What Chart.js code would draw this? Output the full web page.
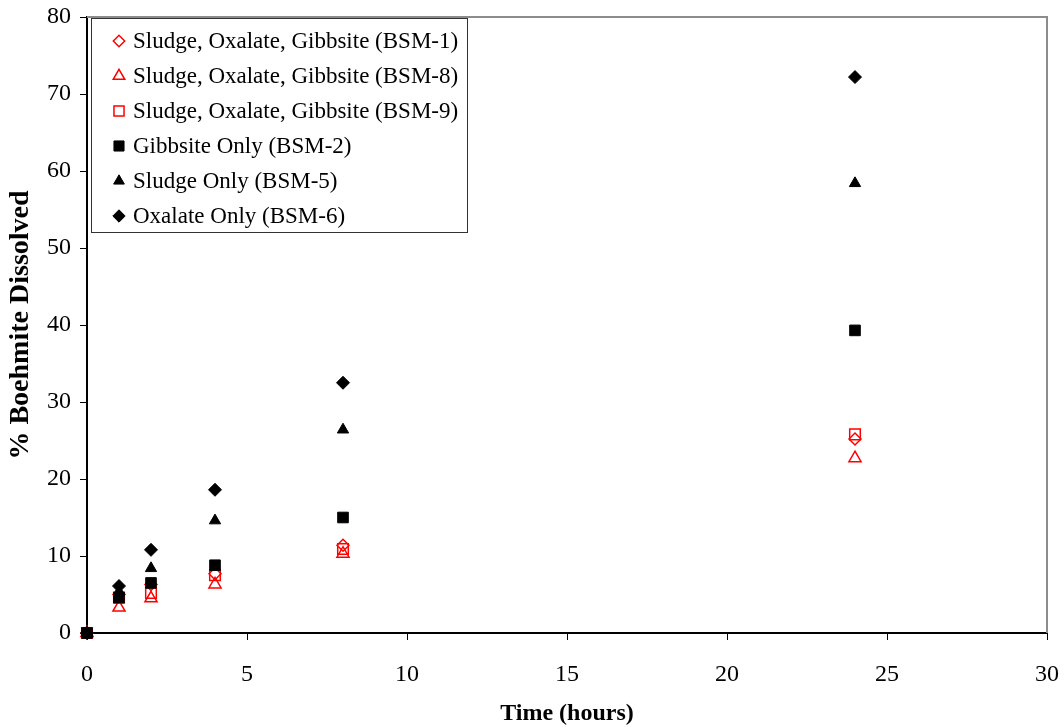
<!DOCTYPE html>
<html>
<head>
<meta charset="utf-8">
<title>Boehmite Dissolution</title>
<script src="https://cdn.jsdelivr.net/npm/chart.js@4.4.0/dist/chart.umd.min.js"></script>
<style>
  html, body { margin: 0; padding: 0; background: #fff; }
  #wrap { width: 1064px; height: 727px; }
</style>
</head>
<body>
<div id="wrap"><canvas id="chart" width="1064" height="727"></canvas></div>
<script>
// sampling times (hours)
const times = [0, 1, 2, 4, 8, 24];

// % boehmite dissolved per test
const bsm1 = [0, 5.0, 6.3, 7.7, 11.4, 25.2];
const bsm8 = [0, 3.3, 4.5, 6.3, 10.3, 22.7];
const bsm9 = [0, 4.6, 5.2, 7.5, 10.9, 25.8];
const bsm2 = [0, 4.6, 6.5, 8.8, 15.0, 39.3];
const bsm5 = [0, 5.4, 8.4, 14.6, 26.4, 58.4];
const bsm6 = [0, 6.1, 10.8, 18.6, 32.5, 72.2];

const seriesNames = [
  'Sludge, Oxalate, Gibbsite (BSM-1)',
  'Sludge, Oxalate, Gibbsite (BSM-8)',
  'Sludge, Oxalate, Gibbsite (BSM-9)',
  'Gibbsite Only (BSM-2)',
  'Sludge Only (BSM-5)',
  'Oxalate Only (BSM-6)'
];

const xTicks = [0, 5, 10, 15, 20, 25, 30];
const yTicks = [0, 10, 20, 30, 40, 50, 60, 70, 80];

const SERIF = '"Liberation Serif", "Times New Roman", serif';

function pts(vals) {
  return times.map((t, i) => ({ x: t, y: vals[i] }));
}

function hollow(label, vals, style, r) {
  return {
    label, data: pts(vals), pointStyle: style, pointRadius: r,
    borderColor: '#ff0000', backgroundColor: 'rgba(0,0,0,0)',
    pointBorderWidth: 1.5, order: 1, clip: false
  };
}

function solid(label, vals, style, r) {
  return {
    label, data: pts(vals), pointStyle: style, pointRadius: r,
    borderColor: '#000', backgroundColor: '#000',
    pointBorderWidth: 1, order: 0, clip: false
  };
}

// boxed legend sitting in the upper left of the plot
const boxLegend = {
  id: 'boxLegend',
  afterDraw(chart) {
    const ctx = chart.ctx;
    const left = 91, top = 18, w = 376, h = 214;
    ctx.save();
    ctx.fillStyle = '#fff';
    ctx.fillRect(left, top, w, h);
    ctx.strokeStyle = '#333';
    ctx.lineWidth = 1;
    ctx.strokeRect(left + 0.5, top + 0.5, w, h);
    ctx.font = '23px ' + SERIF;
    ctx.textBaseline = 'middle';
    chart.data.datasets.forEach((ds, i) => {
      const y = 41 + i * 35;
      ctx.strokeStyle = ds.borderColor;
      ctx.fillStyle = ds.backgroundColor;
      ctx.lineWidth = ds.pointBorderWidth;
      Chart.helpers.drawPoint(ctx, {
        pointStyle: ds.pointStyle, radius: ds.pointRadius * 0.95,
        borderWidth: ds.pointBorderWidth, rotation: 0
      }, 119, y);
      ctx.fillStyle = '#000';
      ctx.fillText(ds.label, 133, y + 1);
    });
    ctx.restore();
  }
};

// thin grey frame on the top and right edges of the plot
const frame = {
  id: 'frame',
  beforeDatasetsDraw(chart) {
    const a = chart.chartArea;
    const ctx = chart.ctx;
    ctx.save();
    ctx.strokeStyle = '#8c8c8c';
    ctx.lineWidth = 2;
    ctx.beginPath();
    ctx.moveTo(a.left, a.top);
    ctx.lineTo(a.right, a.top);
    ctx.lineTo(a.right, a.bottom);
    ctx.stroke();
    ctx.restore();
  }
};

new Chart(document.getElementById('chart'), {
  type: 'scatter',
  data: {
    datasets: [
      hollow(seriesNames[0], bsm1, 'rectRot', 6),
      hollow(seriesNames[1], bsm8, 'triangle', 7),
      hollow(seriesNames[2], bsm9, 'rect', 7.5),
      solid(seriesNames[3], bsm2, 'rect', 7.5),
      solid(seriesNames[4], bsm5, 'triangle', 6.5),
      solid(seriesNames[5], bsm6, 'rectRot', 6.5)
    ]
  },
  options: {
    responsive: false,
    animation: false,
    layout: { padding: 0 },
    plugins: {
      legend: { display: false },
      tooltip: { enabled: false }
    },
    scales: {
      x: {
        type: 'linear', min: 0, max: 30,
        afterFit: s => { s.height = 94; s.paddingLeft = 0; s.paddingRight = 17; },
        afterBuildTicks: s => { s.ticks = xTicks.map(v => ({ value: v })); },
        grid: { drawOnChartArea: false, drawTicks: true, tickLength: 7, color: '#000' },
        border: { color: '#000', width: 2 },
        ticks: { color: '#000', padding: 20, maxRotation: 0, font: { family: SERIF, size: 24 } },
        title: {
          display: true, text: 'Time (hours)', color: '#000',
          font: { family: SERIF, size: 24, weight: 'bold' }, padding: { top: 4, bottom: -1 }
        }
      },
      y: {
        type: 'linear', min: 0, max: 80,
        afterFit: s => { s.width = 87; s.paddingTop = 17; s.paddingBottom = 0; },
        afterBuildTicks: s => { s.ticks = yTicks.map(v => ({ value: v })); },
        grid: { drawOnChartArea: false, drawTicks: true, tickLength: 7, color: '#000' },
        border: { color: '#000', width: 2 },
        ticks: { color: '#000', padding: 9, font: { family: SERIF, size: 24 } },
        title: {
          display: true, text: '% Boehmite Dissolved', color: '#000',
          font: { family: SERIF, size: 28, weight: 'bold' }, padding: { bottom: 4 }
        }
      }
    }
  },
  plugins: [frame, boxLegend]
});
</script>
</body>
</html>
